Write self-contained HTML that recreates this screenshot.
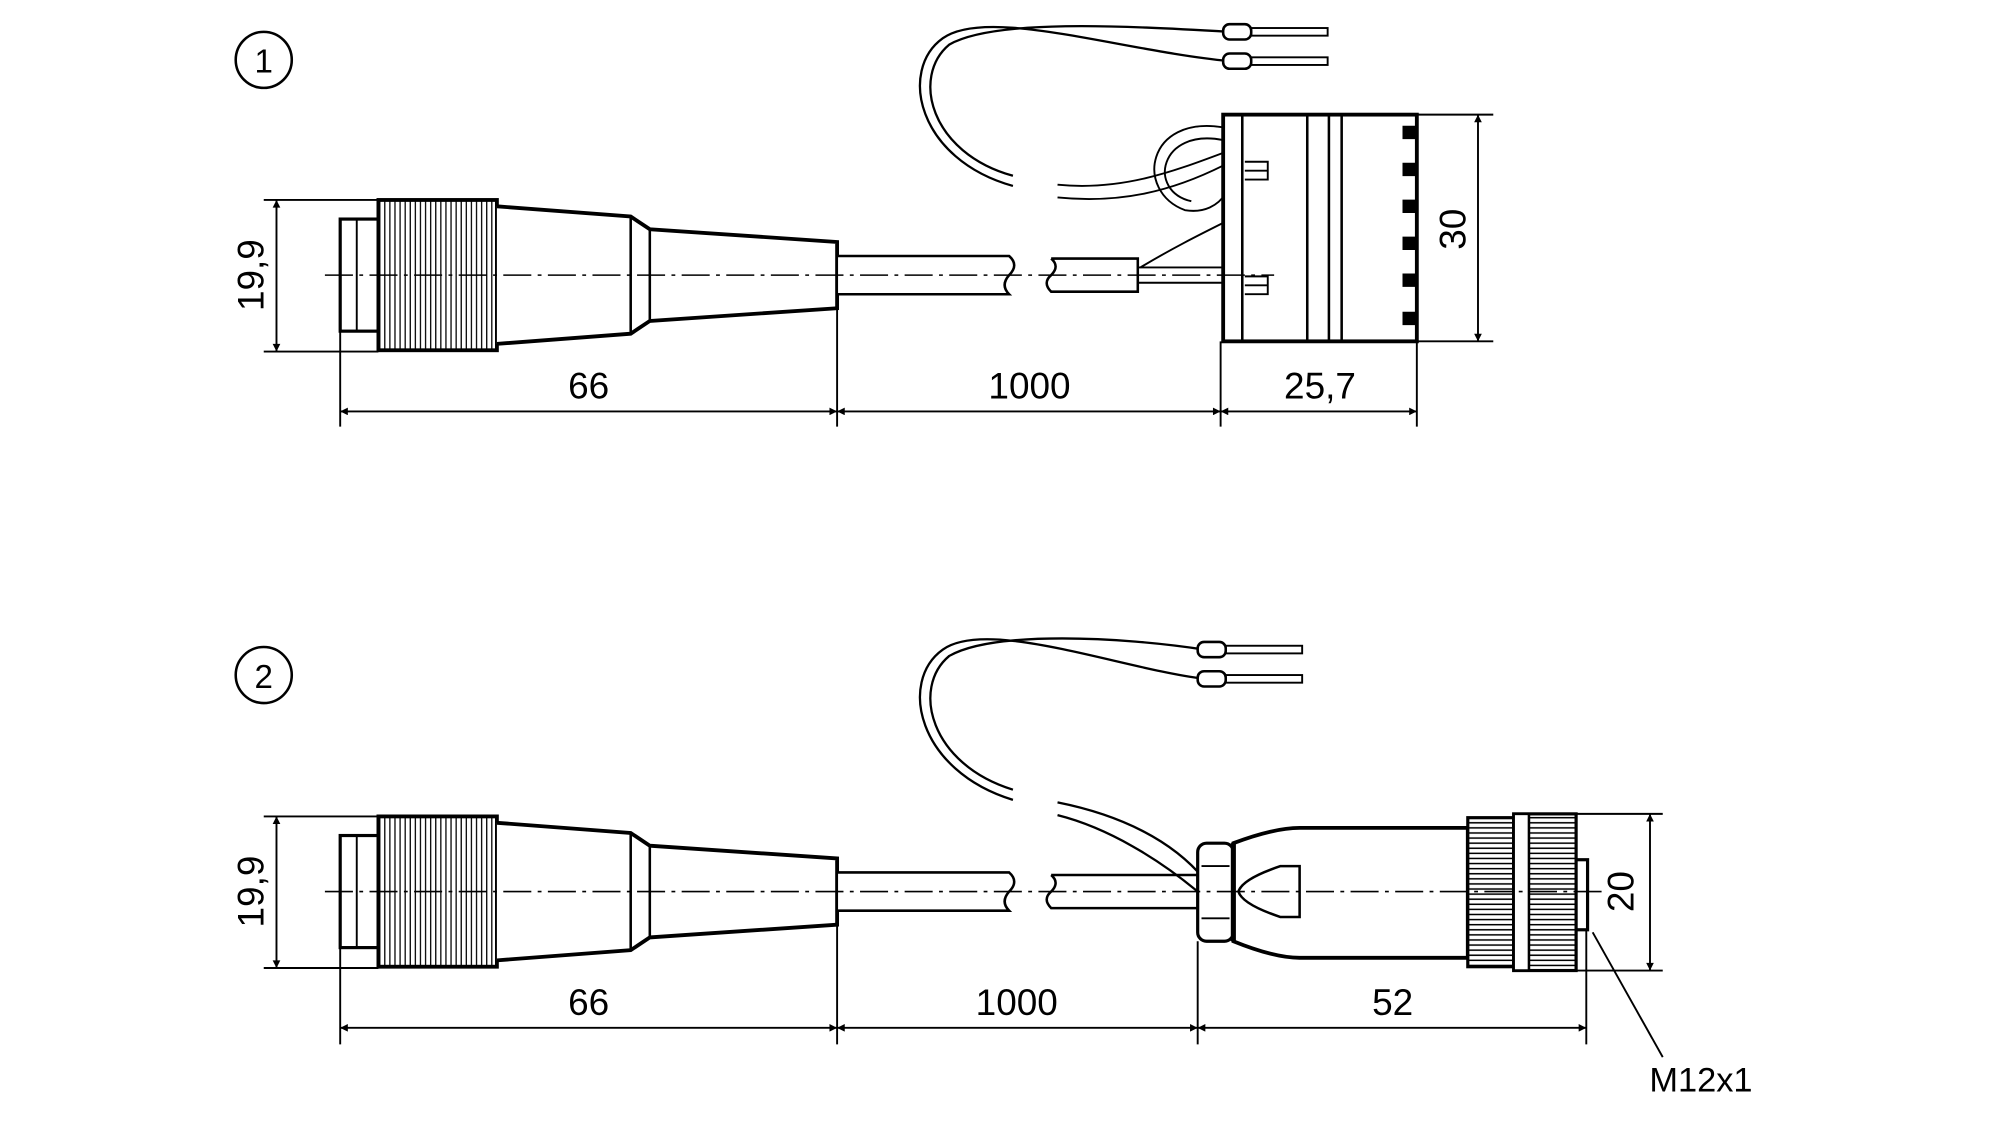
<!DOCTYPE html>
<html><head><meta charset="utf-8"><style>html,body{margin:0;padding:0;background:#fff}svg{display:block}</style></head>
<body>
<svg width="2000" height="1127" viewBox="0 0 1554 876" preserveAspectRatio="none" xmlns="http://www.w3.org/2000/svg" font-family="Liberation Sans, sans-serif">
<defs>
<marker id="a" viewBox="0 0 10 10" refX="10" refY="5" markerWidth="14" markerHeight="6" orient="auto-start-reverse" markerUnits="userSpaceOnUse"><path d="M0,0 L10,5 L0,10 z" fill="#000"/></marker>
<pattern id="k" width="4" height="10" patternUnits="userSpaceOnUse"><rect width="4" height="10" fill="#fff"/><line x1="2" y1="0" x2="2" y2="10" stroke="#000" stroke-width="1"/></pattern>
<pattern id="kh" width="10" height="4" patternUnits="userSpaceOnUse"><rect width="10" height="4" fill="#fff"/><line x1="0" y1="2" x2="10" y2="2" stroke="#000" stroke-width="1.2"/></pattern>
<g id="conn">
<rect x="267" y="-44" width="30" height="88" fill="#fff" stroke="#000" stroke-width="2.5"/>
<line x1="280" y1="-44" x2="280" y2="44" stroke="#000" stroke-width="1.5"/>
<rect x="297" y="-59" width="93" height="118" fill="url(#k)" stroke="#000" stroke-width="3"/>
<path d="M390,-54 L495,-46 L510,-36 L657,-26 L657,26 L510,36 L495,46 L390,54" fill="#fff" stroke="#000" stroke-width="3"/>
<line x1="495" y1="-46" x2="495" y2="46" stroke="#000" stroke-width="2"/>
<line x1="510" y1="-36" x2="510" y2="36" stroke="#000" stroke-width="2"/>
<path d="M657,-15 L792,-15 Q800,-8 792,0 Q785,8 792,15 L657,15" fill="#fff" stroke="#000" stroke-width="2"/>
</g>
</defs>
<g transform="scale(0.99)">
<g fill="none" stroke="#000">
<!-- TOP -->
<circle cx="207" cy="47" r="22" stroke-width="2"/>
<use href="#conn" y="216"/>
<path d="M825,203 L893,203 L893,229 L825,229 Q818,222 825,216 Q832,209 825,203" fill="#fff" stroke-width="2"/>
<line x1="893" y1="210" x2="970" y2="210" stroke-width="1.5"/>
<line x1="893" y1="222" x2="970" y2="222" stroke-width="1.5"/>
<path d="M830,145 C880,150 920,135 960,120" stroke-width="1.5"/><path d="M830,155 C880,160 920,150 960,130" stroke-width="1.5"/>
<path d="M960,100 C900,90 890,150 930,165 C960,170 975,140 960,120" stroke-width="1.5"/>
<path d="M960,110 C910,100 900,150 935,158" stroke-width="1.5"/>
<path d="M895,210 C920,195 940,185 960,175" stroke-width="1.5"/>
<path d="M795,138 C730,120 715,60 745,35 C780,15 880,20 965,25" stroke-width="1.8"/>
<path d="M795,146 C720,125 705,55 740,30 C775,5 880,40 965,48" stroke-width="1.8"/>
<rect x="960" y="19" width="22" height="12" rx="5" fill="#fff" stroke-width="2"/><rect x="982" y="22" width="60" height="6" stroke-width="1.5"/>
<rect x="960" y="42" width="22" height="12" rx="5" fill="#fff" stroke-width="2"/><rect x="982" y="45" width="60" height="6" stroke-width="1.5"/>
<rect x="960" y="90" width="152" height="178" fill="#fff" stroke-width="3"/>
<line x1="975" y1="90" x2="975" y2="268" stroke-width="2"/>
<line x1="1026" y1="90" x2="1026" y2="268" stroke-width="2"/><line x1="1043" y1="90" x2="1043" y2="268" stroke-width="2"/><line x1="1053" y1="90" x2="1053" y2="268" stroke-width="2"/>
<path d="M977,127 h18 v14 h-18 M977,134 h18" stroke-width="1.5"/>
<path d="M977,217 h18 v14 h-18 M977,224 h18" stroke-width="1.5"/>
<path d="M1112,100 h-10 v8 h10 M1112,129 h-10 v8 h10 M1112,158 h-10 v8 h10 M1112,187 h-10 v8 h10 M1112,216 h-10 v8 h10 M1112,246 h-10 v8 h10" stroke-width="2.5" fill="#000"/>
<line x1="255" y1="216" x2="1000" y2="216" stroke-width="1.2" stroke-dasharray="22,5,3,5"/>
<g stroke-width="1.5">
<line x1="207" y1="157" x2="297" y2="157"/><line x1="207" y1="276" x2="297" y2="276"/>
<line x1="217" y1="157" x2="217" y2="276" marker-start="url(#a)" marker-end="url(#a)"/>
<line x1="267" y1="260" x2="267" y2="335"/><line x1="657" y1="200" x2="657" y2="335"/><line x1="958" y1="268" x2="958" y2="335"/><line x1="1112" y1="268" x2="1112" y2="335"/>
<line x1="267" y1="323" x2="657" y2="323" marker-start="url(#a)" marker-end="url(#a)"/>
<line x1="657" y1="323" x2="958" y2="323" marker-start="url(#a)" marker-end="url(#a)"/>
<line x1="958" y1="323" x2="1112" y2="323" marker-start="url(#a)" marker-end="url(#a)"/>
<line x1="1112" y1="90" x2="1172" y2="90"/><line x1="1112" y1="268" x2="1172" y2="268"/>
<line x1="1160" y1="90" x2="1160" y2="268" marker-start="url(#a)" marker-end="url(#a)"/>
</g>
<!-- BOTTOM -->
<circle cx="207" cy="530" r="22" stroke-width="2"/>
<use href="#conn" y="700"/>
<path d="M825,687 L940,687 L940,713 L825,713 Q818,706 825,700 Q832,693 825,687" fill="#fff" stroke-width="2"/>
<path d="M795,620 C730,600 715,540 745,515 C780,495 880,500 945,510" stroke-width="1.8"/>
<path d="M795,628 C720,605 705,535 740,510 C775,485 880,525 945,533" stroke-width="1.8"/>
<path d="M830,630 C880,640 920,660 945,690" stroke-width="1.8"/><path d="M830,640 C870,650 910,675 940,700" stroke-width="1.8"/>
<rect x="940" y="504" width="22" height="12" rx="5" fill="#fff" stroke-width="2"/><rect x="962" y="507" width="60" height="6" stroke-width="1.5"/>
<rect x="940" y="527" width="22" height="12" rx="5" fill="#fff" stroke-width="2"/><rect x="962" y="530" width="60" height="6" stroke-width="1.5"/>
<rect x="940" y="662" width="28" height="77" rx="7" fill="#fff" stroke-width="2.5"/>
<path d="M943,680 h22 M943,721 h22" stroke-width="1.5"/>
<path d="M968,662 Q1000,650 1020,650 L1152,650 L1152,752 L1020,752 Q1000,752 968,739 Z" fill="#fff" stroke-width="3"/>
<line x1="968" y1="662" x2="968" y2="739" stroke-width="4"/>
<path d="M1020,680 L1005,680 Q975,690 972,700 Q975,710 1005,720 L1020,720 Z" stroke-width="2"/>
<rect x="1152" y="642" width="36" height="117" fill="url(#kh)" stroke-width="2.5"/>
<rect x="1188" y="639" width="49" height="123" fill="url(#kh)" stroke-width="2.5"/>
<rect x="1188" y="639" width="12" height="123" fill="#fff" stroke-width="2"/>
<rect x="1237" y="675" width="9" height="55" fill="#fff" stroke-width="2.5"/>
<line x1="255" y1="700" x2="1260" y2="700" stroke-width="1.2" stroke-dasharray="22,5,3,5"/>
<g stroke-width="1.5">
<line x1="207" y1="641" x2="297" y2="641"/><line x1="207" y1="760" x2="297" y2="760"/>
<line x1="217" y1="641" x2="217" y2="760" marker-start="url(#a)" marker-end="url(#a)"/>
<line x1="267" y1="744" x2="267" y2="820"/><line x1="657" y1="684" x2="657" y2="820"/><line x1="940" y1="739" x2="940" y2="820"/><line x1="1245" y1="730" x2="1245" y2="820"/>
<line x1="267" y1="807" x2="657" y2="807" marker-start="url(#a)" marker-end="url(#a)"/>
<line x1="657" y1="807" x2="940" y2="807" marker-start="url(#a)" marker-end="url(#a)"/>
<line x1="940" y1="807" x2="1245" y2="807" marker-start="url(#a)" marker-end="url(#a)"/>
<line x1="1237" y1="639" x2="1305" y2="639"/><line x1="1237" y1="762" x2="1305" y2="762"/>
<line x1="1295" y1="639" x2="1295" y2="762" marker-start="url(#a)" marker-end="url(#a)"/>
<line x1="1250" y1="732" x2="1305" y2="830"/>
</g>
</g>
<g font-size="29" fill="#000" text-anchor="middle">
<text x="207" y="57" font-size="26">1</text><text x="207" y="540" font-size="26">2</text>
<text x="462" y="313">66</text><text x="808" y="313">1000</text><text x="1036" y="313">25,7</text>
<text x="462" y="797">66</text><text x="798" y="797">1000</text><text x="1093" y="797">52</text>
<text transform="translate(207,216) rotate(-90)">19,9</text>
<text transform="translate(207,700) rotate(-90)">19,9</text>
<text transform="translate(1150,180) rotate(-90)">30</text>
<text transform="translate(1282,700) rotate(-90)">20</text>
<text x="1335" y="857" font-size="27">M12x1</text>
</g>
</g>
</svg>
</body></html>
